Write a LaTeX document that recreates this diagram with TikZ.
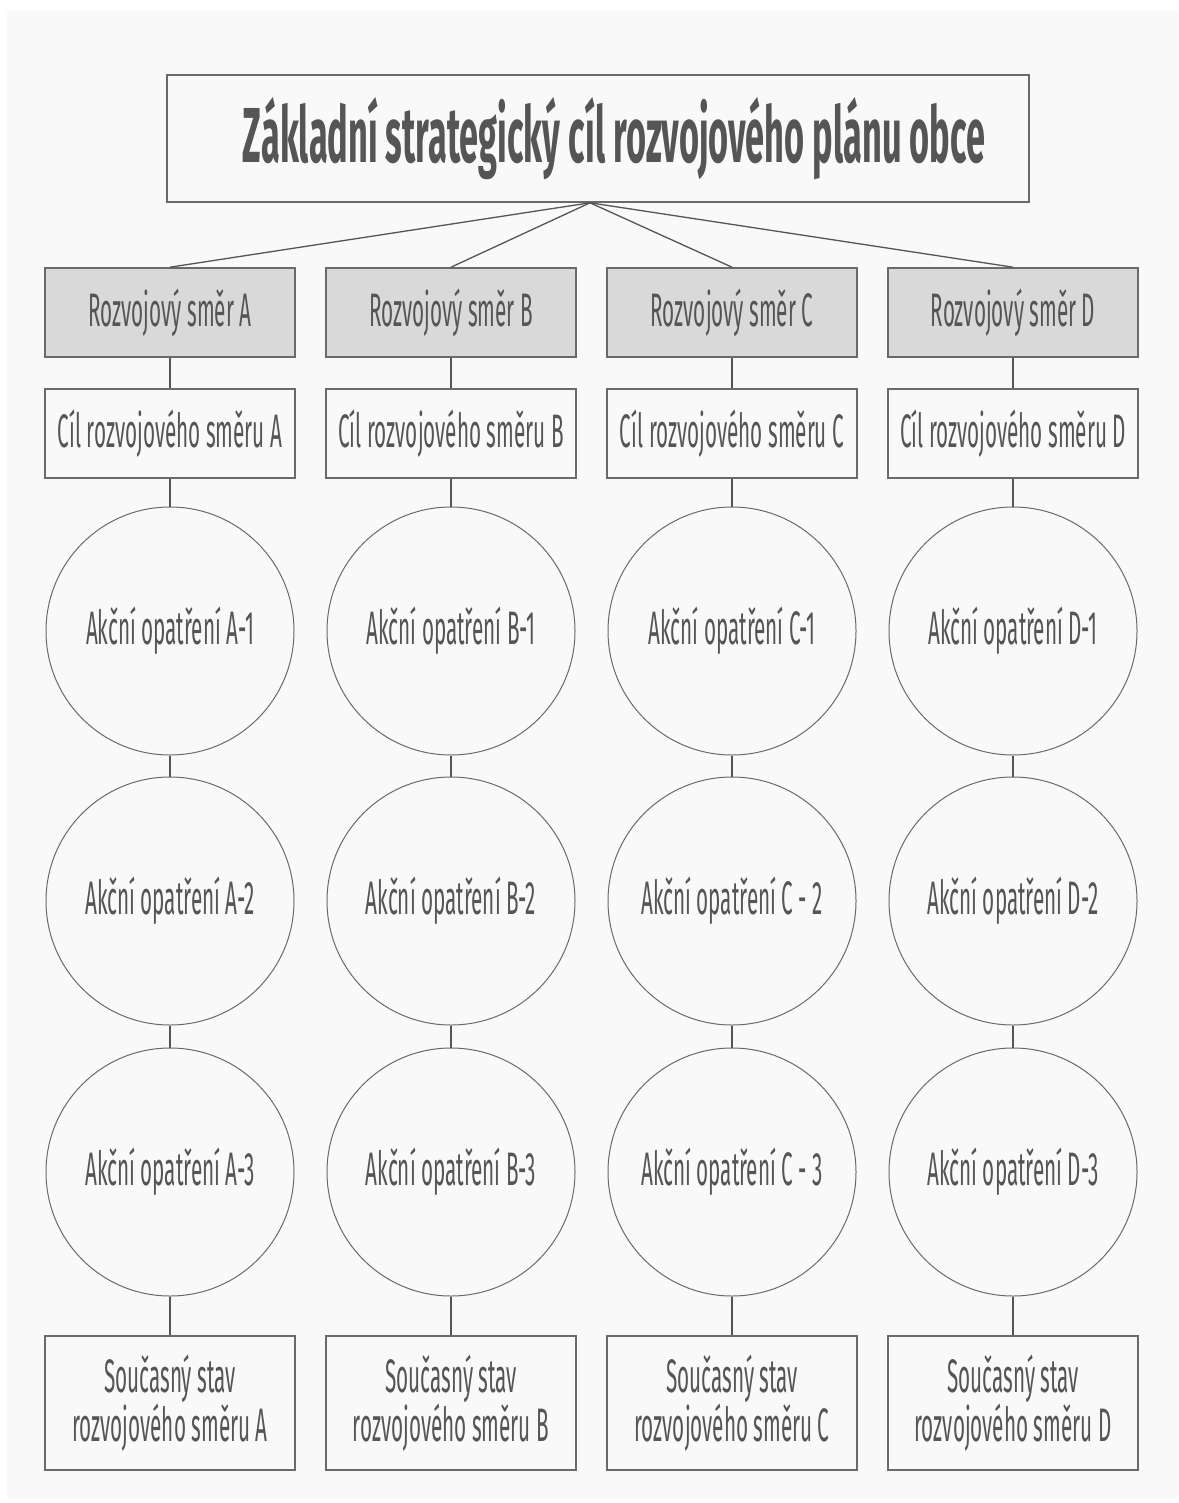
\documentclass[tikz,border=0pt]{standalone}
\usepackage{fontspec}
\setmainfont[FakeStretch=0.44]{Fira Sans}
\usetikzlibrary{positioning}
\definecolor{ink}{HTML}{555555}
\definecolor{edge}{HTML}{6A6A6A}
\definecolor{shade}{HTML}{D9D9D9}
\definecolor{paper}{HTML}{F9F9F9}
\tikzset{
  box/.style={draw=edge,line width=1.6pt,fill=paper,minimum width=250pt,minimum height=89pt,
    inner sep=0pt,align=center,text=ink,font=\fontsize{47}{46}\selectfont},
  dirbox/.style={box,fill=shade},
  statebox/.style={box,minimum height=134pt},
  act/.style={circle,draw=edge,line width=1pt,fill=paper,minimum size=248pt,inner sep=0pt,
    text=ink,font=\fontsize{47}{46}\selectfont},
  link/.style={draw=ink,line width=1.3pt},
}

\begin{document}
\begin{tikzpicture}[x=1pt,y=-1pt]
% page
\fill[white] (0,0) rectangle (1178,1503);
\fill[paper] (7,11) rectangle (1178,1498);
\useasboundingbox (0,0) rectangle (1178,1503);

% main goal
\node[box,minimum width=862pt,minimum height=127pt,font=\fontsize{78}{80}\bfseries\selectfont]
  (goal) at (598,138.5) {\hspace*{32pt}Základní strategický cíl rozvojového plánu obce};
\coordinate (hub) at ([xshift=-8pt]goal.south);

% columns
\foreach \c/\x/\two/\three in {A/170/A-2/A-3, B/451/B-2/B-3, C/732/C - 2/C - 3, D/1013/D-2/D-3}{
  \node[dirbox] (dir\c) at (\x,312.5) {Rozvojový směr \c};
  \node[box] (aim\c) at (\x,433.5) {Cíl rozvojového směru \c};
  \node[act] (act\c1) at (\x,631) {Akční opatření \c-1};
  \node[act] (act\c2) at (\x,901) {Akční opatření \two};
  \node[act] (act\c3) at (\x,1172) {Akční opatření \three};
  \node[statebox] (state\c) at (\x,1403) {Současný stav\\rozvojového směru \c};
  \draw[link] (hub) -- (dir\c.north);
  \draw[link] (dir\c) -- (aim\c);
  \draw[link] (aim\c) -- (act\c1);
  \draw[link] (act\c1) -- (act\c2);
  \draw[link] (act\c2) -- (act\c3);
  \draw[link] (act\c3) -- (state\c);
}
\end{tikzpicture}
\end{document}
